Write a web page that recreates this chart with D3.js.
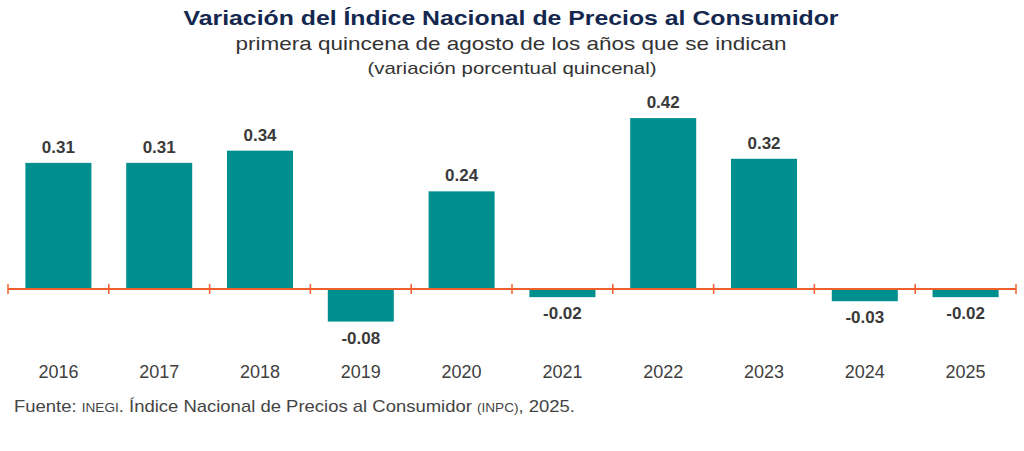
<!DOCTYPE html>
<html>
<head>
<meta charset="utf-8">
<script src="https://cdn.jsdelivr.net/npm/d3@7"></script>
<style>
  body { margin: 0; background: #fff; }
  text { font-family: "Liberation Sans", Arial, sans-serif; }
</style>
</head>
<body>
<div id="chart"></div>
<script>
var years = ["2016", "2017", "2018", "2019", "2020", "2021", "2022", "2023", "2024", "2025"];
var variacion = [0.31, 0.31, 0.34, -0.08, 0.24, -0.02, 0.42, 0.32, -0.03, -0.02];
var valueLabels = ["0.31", "0.31", "0.34", "-0.08", "0.24", "-0.02", "0.42", "0.32", "-0.03", "-0.02"];

var width = 1024, height = 451;

var svg = d3.select("#chart").append("svg").attr("width", width).attr("height", height);

// titles (the original is set a bit wider than the font, so stretch to fit)
svg.append("text").attr("x", 511).attr("y", 25).attr("text-anchor", "middle")
   .attr("font-size", 21).attr("font-weight", "bold").attr("fill", "#14284f")
   .attr("textLength", 655).attr("lengthAdjust", "spacingAndGlyphs")
   .text("Variación del Índice Nacional de Precios al Consumidor");
svg.append("text").attr("x", 511).attr("y", 50).attr("text-anchor", "middle")
   .attr("font-size", 19).attr("fill", "#333")
   .attr("textLength", 551).attr("lengthAdjust", "spacingAndGlyphs")
   .text("primera quincena de agosto de los años que se indican");
svg.append("text").attr("x", 512).attr("y", 74).attr("text-anchor", "middle")
   .attr("font-size", 17).attr("fill", "#333")
   .attr("textLength", 289).attr("lengthAdjust", "spacingAndGlyphs")
   .text("(variación porcentual quincenal)");

var pad = 0.345;
var x = d3.scaleBand().domain(years).range([8, 1016]).paddingInner(pad).paddingOuter(pad / 2);
var y = d3.scaleLinear().domain([-0.1, 0.45]).range([329.7, 105.9]);

var data = years.map(function(d, i) { return { year: d, v: variacion[i], label: valueLabels[i] }; });

svg.selectAll("rect.bar").data(data).enter().append("rect")
   .attr("class", "bar")
   .attr("x", function(d) { return x(d.year); })
   .attr("width", x.bandwidth())
   .attr("y", function(d) { return y(Math.max(0, d.v)); })
   .attr("height", function(d) { return Math.abs(y(d.v) - y(0)); })
   .attr("fill", "#008f8f");

// axis line + ticks at band boundaries
var step = x.step();
var tickPos = years.map(function(d) { return x(d) - step * pad / 2; });
tickPos.push(x(years[years.length - 1]) + x.bandwidth() + step * pad / 2);

svg.append("line").attr("x1", tickPos[0]).attr("x2", tickPos[tickPos.length - 1])
   .attr("y1", y(0)).attr("y2", y(0)).attr("stroke", "#f0602a").attr("stroke-width", 2);
svg.selectAll("line.tick").data(tickPos).enter().append("line")
   .attr("class", "tick")
   .attr("x1", function(d) { return d; }).attr("x2", function(d) { return d; })
   .attr("y1", y(0) - 5).attr("y2", y(0) + 5)
   .attr("stroke", "#f0602a").attr("stroke-width", 1.5);

// value labels
svg.selectAll("text.val").data(data).enter().append("text")
   .attr("class", "val")
   .attr("x", function(d) { return x(d.year) + x.bandwidth() / 2; })
   .attr("y", function(d) { return d.v >= 0 ? y(d.v) - 10 : y(d.v) + 22; })
   .attr("text-anchor", "middle").attr("font-size", 17).attr("font-weight", "bold")
   .attr("fill", "#3a3a3a")
   .text(function(d) { return d.label; });

// year labels
svg.selectAll("text.year").data(data).enter().append("text")
   .attr("class", "year")
   .attr("x", function(d) { return x(d.year) + x.bandwidth() / 2; })
   .attr("y", 378)
   .attr("text-anchor", "middle").attr("font-size", 18).attr("fill", "#404040")
   .text(function(d) { return d.year; });

// source note
var src = svg.append("text").attr("x", 14).attr("y", 412).attr("font-size", 17).attr("fill", "#444")
   .attr("textLength", 561).attr("lengthAdjust", "spacingAndGlyphs");
src.append("tspan").text("Fuente: ");
src.append("tspan").attr("font-size", 12.5).text("INEGI");
src.append("tspan").text(". Índice Nacional de Precios al Consumidor ");
src.append("tspan").attr("font-size", 12.5).text("(INPC)");
src.append("tspan").text(", 2025.");
</script>
</body>
</html>
